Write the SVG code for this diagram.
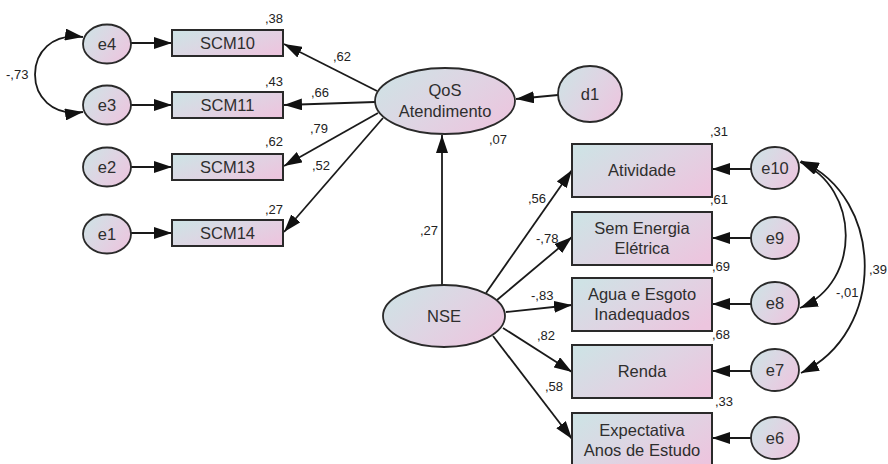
<svg xmlns="http://www.w3.org/2000/svg" width="888" height="464" viewBox="0 0 888 464">
  <defs>
    <linearGradient id="fill" x1="0" y1="0.2" x2="1" y2="0.8">
      <stop offset="0" stop-color="#cfe2e5"/>
      <stop offset="0.5" stop-color="#dfd4e3"/>
      <stop offset="1" stop-color="#ecc5de"/>
    </linearGradient>
    <marker id="arr" viewBox="0 0 18 12" refX="18" refY="6" markerWidth="18" markerHeight="12" markerUnits="userSpaceOnUse" orient="auto-start-reverse">
      <path d="M0,0 L18,6 L0,12 z" fill="#111"/>
    </marker>
    <style>
      .box { fill: url(#fill); stroke: #2a2a2a; stroke-width: 2; }
      .ell { fill: url(#fill); stroke: #2a2a2a; stroke-width: 1.8; }
      .lbl { font-family: "Liberation Sans", Arial, sans-serif; font-size: 16.5px; fill: #2e2e2e; text-anchor: middle; }
      .num { font-family: "Liberation Sans", Arial, sans-serif; font-size: 13px; fill: #222; }
      .edge { fill: none; stroke: #1a1a1a; stroke-width: 1.8; marker-end: url(#arr); }
      .cov { fill: none; stroke: #1a1a1a; stroke-width: 1.8; marker-start: url(#arr); marker-end: url(#arr); }
    </style>
  </defs>

  <!-- paths and covariances -->
  <g id="connectors">
    <!-- error terms to indicators -->
    <line class="edge" x1="131" y1="43" x2="172" y2="43"/>
    <line class="edge" x1="131" y1="105" x2="172" y2="105"/>
    <line class="edge" x1="131" y1="167" x2="172" y2="167"/>
    <line class="edge" x1="131" y1="233" x2="172" y2="233"/>
    <path class="cov" d="M83,37 C19,28 19,121 83,112"/>

    <!-- QoS loadings -->
    <line class="edge" x1="377" y1="91" x2="284" y2="44"/>
    <line class="edge" x1="375" y1="102" x2="284" y2="105"/>
    <line class="edge" x1="378" y1="113" x2="284" y2="166"/>
    <line class="edge" x1="383" y1="118" x2="284" y2="232"/>

    <!-- disturbance and structural path -->
    <line class="edge" x1="558" y1="95" x2="516" y2="99"/>
    <line class="edge" x1="442" y1="285" x2="442" y2="135"/>

    <!-- NSE loadings -->
    <line class="edge" x1="486" y1="293" x2="572" y2="170"/>
    <line class="edge" x1="497" y1="300" x2="572" y2="237"/>
    <line class="edge" x1="506" y1="312" x2="572" y2="305"/>
    <line class="edge" x1="503" y1="328" x2="572" y2="372"/>
    <line class="edge" x1="493" y1="336" x2="572" y2="439"/>

    <!-- error terms to NSE indicators -->
    <line class="edge" x1="751" y1="169" x2="712" y2="169"/>
    <line class="edge" x1="751" y1="238" x2="712" y2="238"/>
    <line class="edge" x1="751" y1="304" x2="712" y2="304"/>
    <line class="edge" x1="751" y1="371" x2="712" y2="371"/>
    <line class="edge" x1="751" y1="438" x2="712" y2="438"/>
    <path class="cov" d="M800,162 C860,188 862,282 800,308"/>
    <path class="cov" d="M801,161 C885,198 887,332 801,373"/>
  </g>

  <!-- QoS indicators -->
  <g id="e4"><ellipse class="ell" cx="107" cy="44" rx="24" ry="19.5"/><text class="lbl" x="107" y="50">e4</text></g>
  <g id="e3"><ellipse class="ell" cx="107" cy="105" rx="24" ry="19.5"/><text class="lbl" x="107" y="111">e3</text></g>
  <g id="e2"><ellipse class="ell" cx="107" cy="167" rx="24" ry="19.5"/><text class="lbl" x="107" y="173">e2</text></g>
  <g id="e1"><ellipse class="ell" cx="107" cy="234" rx="24" ry="19.5"/><text class="lbl" x="107" y="240">e1</text></g>

  <g id="scm10"><rect class="box" x="172" y="30" width="111" height="26"/><text class="lbl" x="227.5" y="49">SCM10</text><text class="num" x="265" y="23">,38</text></g>
  <g id="scm11"><rect class="box" x="172" y="92" width="111" height="26"/><text class="lbl" x="227.5" y="111">SCM11</text><text class="num" x="265" y="86">,43</text></g>
  <g id="scm13"><rect class="box" x="172" y="154" width="111" height="26"/><text class="lbl" x="227.5" y="173">SCM13</text><text class="num" x="265" y="146">,62</text></g>
  <g id="scm14"><rect class="box" x="172" y="220" width="111" height="26"/><text class="lbl" x="227.5" y="239">SCM14</text><text class="num" x="265" y="214">,27</text></g>

  <!-- latent variables -->
  <g id="qos">
    <ellipse class="ell" cx="445" cy="101" rx="70" ry="33"/>
    <text class="lbl" x="445" y="96">QoS</text>
    <text class="lbl" x="445" y="117">Atendimento</text>
    <text class="num" x="489" y="144">,07</text>
  </g>
  <g id="d1"><ellipse class="ell" cx="590" cy="94" rx="32" ry="28"/><text class="lbl" x="590" y="100">d1</text></g>
  <g id="nse"><ellipse class="ell" cx="444" cy="316" rx="61" ry="31"/><text class="lbl" x="444" y="322">NSE</text></g>

  <!-- NSE indicators -->
  <g id="atividade"><rect class="box" x="572" y="144" width="140" height="53"/><text class="lbl" x="642" y="176">Atividade</text><text class="num" x="710" y="136">,31</text></g>
  <g id="energia"><rect class="box" x="572" y="212" width="140" height="53"/><text class="lbl" x="642" y="234">Sem Energia</text><text class="lbl" x="642" y="254">Elétrica</text><text class="num" x="710" y="204">,61</text></g>
  <g id="agua"><rect class="box" x="572" y="278" width="140" height="53"/><text class="lbl" x="642" y="300">Agua e Esgoto</text><text class="lbl" x="642" y="320">Inadequados</text><text class="num" x="712" y="271">,69</text></g>
  <g id="renda"><rect class="box" x="572" y="345" width="140" height="53"/><text class="lbl" x="642" y="377">Renda</text><text class="num" x="712" y="339">,68</text></g>
  <g id="expectativa"><rect class="box" x="572" y="413" width="140" height="56"/><text class="lbl" x="642" y="436">Expectativa</text><text class="lbl" x="642" y="456">Anos de Estudo</text><text class="num" x="715" y="406">,33</text></g>

  <g id="e10"><ellipse class="ell" cx="775" cy="168" rx="24" ry="21"/><text class="lbl" x="775" y="174">e10</text></g>
  <g id="e9"><ellipse class="ell" cx="775" cy="238" rx="24" ry="21"/><text class="lbl" x="775" y="244">e9</text></g>
  <g id="e8"><ellipse class="ell" cx="775" cy="303" rx="24" ry="21"/><text class="lbl" x="775" y="309">e8</text></g>
  <g id="e7"><ellipse class="ell" cx="775" cy="370" rx="24" ry="21"/><text class="lbl" x="775" y="376">e7</text></g>
  <g id="e6"><ellipse class="ell" cx="775" cy="438" rx="24" ry="21"/><text class="lbl" x="775" y="444">e6</text></g>

  <!-- coefficient labels -->
  <g id="coefficients">
    <text class="num" x="6" y="79">-,73</text>
    <text class="num" x="333" y="61">,62</text>
    <text class="num" x="311" y="97">,66</text>
    <text class="num" x="310" y="133">,79</text>
    <text class="num" x="312" y="170">,52</text>
    <text class="num" x="420" y="235">,27</text>
    <text class="num" x="528" y="203">,56</text>
    <text class="num" x="536" y="243">-,78</text>
    <text class="num" x="531" y="300">-,83</text>
    <text class="num" x="537" y="340">,82</text>
    <text class="num" x="545" y="391">,58</text>
    <text class="num" x="836" y="297">-,01</text>
    <text class="num" x="869" y="274">,39</text>
  </g>
</svg>
